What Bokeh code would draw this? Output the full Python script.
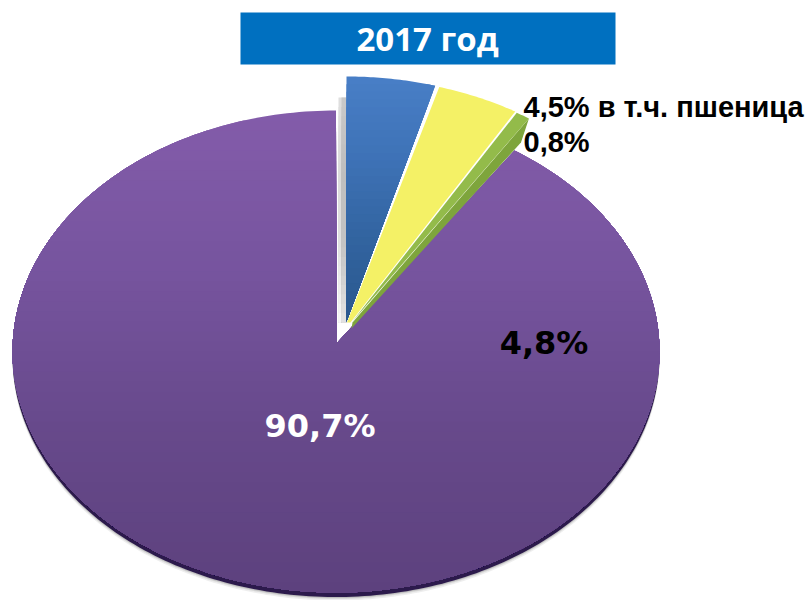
import math
from bokeh.plotting import figure
from bokeh.models import Range1d
from bokeh.core.properties import value
from bokeh.embed import file_html
from bokeh.resources import INLINE

title_text = "2017 год"
# Slice shares, percent (in the source chart the three small slices share what the large one leaves)
small_names = ["blue", "yellow", "green"]
small_values = [4.8, 4.5, 0.8]
large_value = 90.7
label_large = "90,7%"
label_blue = "4,8%"
label_top = "4,5% в т.ч. пшеница"
label_green = "0,8%"

CX, CY, RX, RY = 335.5, 351.0, 323.5, 241.0
p = figure(width=811, height=600, output_backend="svg", toolbar_location=None,
           x_range=Range1d(0, 811), y_range=Range1d(600, 0), min_border=0,
           outline_line_color=None, background_fill_color="white", border_fill_color="white")
p.axis.visible = False
p.grid.visible = False


def arc(cx, cy, t0, t1, n=None):
    n = n or max(2, int(abs(t1 - t0)) * 2)
    return [(cx + RX * math.sin(math.radians(t0 + (t1 - t0) * i / n)),
             cy - RY * math.cos(math.radians(t0 + (t1 - t0) * i / n))) for i in range(n + 1)]


def clip_below(poly, Y):
    out = []
    for i, a in enumerate(poly):
        b = poly[(i + 1) % len(poly)]
        if a[1] >= Y:
            out.append(a)
        if (a[1] >= Y) != (b[1] >= Y):
            f = (Y - a[1]) / (b[1] - a[1])
            out.append((a[0] + f * (b[0] - a[0]), Y))
    return out


def mix(stops, f):
    f = min(max(f, 0), 1) * (len(stops) - 1)
    i = min(int(f), len(stops) - 2)
    g = f - i
    a, b = stops[i], stops[i + 1]
    return "#%02x%02x%02x" % tuple(round(a[k] + g * (b[k] - a[k])) for k in range(3))


def gradient(poly, stops, bands=48):
    ys = [q[1] for q in poly]
    y0, y1 = min(ys), max(ys)
    xs_all, ys_all, cols = [], [], []
    for i in range(bands):
        Y = y0 + (y1 - y0) * i / bands
        c = clip_below(poly, Y) if i else poly
        if len(c) > 2:
            xs_all.append([q[0] for q in c])
            ys_all.append([q[1] for q in c])
            cols.append(mix(stops, i / (bands - 1)))
    p.patches(xs_all, ys_all, fill_color=cols, line_color=None)


def solid(poly, color, alpha=1.0):
    p.patch([q[0] for q in poly], [q[1] for q in poly], fill_color=color, fill_alpha=alpha, line_color=None)


# angles from the values
gap = (100 - large_value) / 100 * 360
total_small = sum(small_values)
edges = [0.0]
for v in small_values:
    edges.append(edges[-1] + v / total_small * gap)

# title
p.quad(left=[240], right=[615], top=[12], bottom=[64], fill_color="#0070c0", line_color=None)
p.text(x=[427], y=[37.5], text=[title_text], text_color="white", text_font=value("Open Sans"),
       text_font_size="33px", text_font_style="bold", text_align="center", text_baseline="middle")

# large slice: soft shadow, rim, face
apex = (336.0, 343.0)
large_poly = [apex] + arc(CX, CY, edges[-1], 360, 300)
for dy, a in ((8, 0.10), (6.5, 0.14), (5.5, 0.2)):
    solid([(x, y + dy) for x, y in large_poly], "#555555", a)
solid([(x, y + 4.5) for x, y in large_poly], "#2c1a4c")
gradient(large_poly, [(131, 92, 170), (118, 84, 158), (103, 73, 139), (93, 65, 126)])

# grey shadow next to the blue slice
gradient([(338, 97), (346, 97), (346, 322), (338, 322)],
         [(222, 222, 222), (218, 218, 218), (224, 224, 224), (246, 246, 246)], 24)
gradient([(341, 97), (346, 97), (346, 322), (341, 322)],
         [(200, 200, 200), (190, 190, 190), (196, 196, 196), (226, 226, 226)], 24)

# blue slice
blue_c = (346.0, 317.0)
blue_poly = [(346.0, 321.0)] + arc(*blue_c, edges[0], edges[1])
gradient(blue_poly, [(72, 126, 198), (62, 114, 182), (50, 100, 160), (42, 88, 142)], 32)

# yellow slice
yel_c = (349.0, 318.0)
yel_poly = [(346.5, 322.0), (350.0, 322.0)] + arc(*yel_c, edges[2], edges[1] + 0.2)
solid(yel_poly, "#f4f166")

# green slice and its side face
grn_c = (350.0, 319.0)
grn_arc = arc(*grn_c, edges[2] + 0.1, edges[3])
end = grn_arc[-1]
solid([(352.0, 322.0), end, (end[0] - 8, end[1] + 24), (351.0, 328.0)], "#7ea53c")
solid([(351.0, 322.0)] + grn_arc, "#93bb4a")

# labels
p.text(x=[523], y=[106], text=[label_top], text_color="black", text_font=value("Liberation Sans"),
       text_font_size="29px", text_font_style="bold", text_align="left", text_baseline="middle")
p.text(x=[523], y=[141], text=[label_green], text_color="black", text_font=value("Liberation Sans"),
       text_font_size="29px", text_font_style="bold", text_align="left", text_baseline="middle")
p.text(x=[319.5], y=[425], text=[label_large], text_color="white", text_font=value("DejaVu Sans"),
       text_font_size="32px", text_font_style="bold", text_align="center", text_baseline="middle")
p.text(x=[543.5], y=[342], text=[label_blue], text_color="black", text_font=value("DejaVu Sans"),
       text_font_size="32px", text_font_style="bold", text_align="center", text_baseline="middle")

open("out.html", "w").write(file_html(p, INLINE))
